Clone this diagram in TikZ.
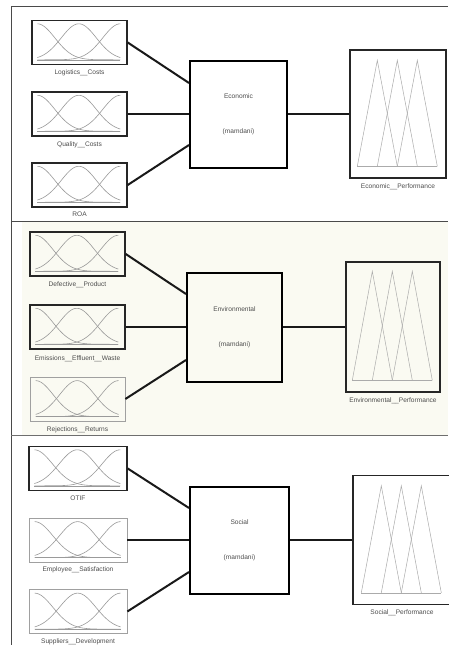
\documentclass[tikz,border=0pt]{standalone}
\usepackage{fontspec}
\setmainfont{Liberation Sans}
\definecolor{frameline}{HTML}{4A4A4A}
\definecolor{paneltint}{HTML}{FAFAF2}
\definecolor{txt}{HTML}{4D4D4D}
\definecolor{curve}{HTML}{9A9A9A}
\definecolor{tri}{HTML}{ABABAB}
\definecolor{lightbox}{HTML}{A0A0A0}
\tikzset{
  frame/.style={draw=frameline, line width=1pt},
  inbox/.style={draw=black!85, line width=1.4pt, minimum width=95pt, minimum height=44pt, inner sep=0pt},
  inboxlight/.style={inbox, draw=lightbox, line width=0.7pt},
  fisbox/.style={draw=black, line width=2pt, inner sep=0pt, align=center, text=txt,
                 font=\fontsize{6.6}{8}\selectfont},
  outbox/.style={draw=black!85, line width=1.4pt, inner sep=0pt},
  lbl/.style={text=txt, font=\fontsize{6.6}{8}\selectfont, inner sep=0pt,
              text height=5pt, text depth=1.5pt},
  wire/.style={draw=black!90, line width=2pt},
  mfcurve/.style={draw=curve, line width=0.6pt},
  mftri/.style={draw=tri, line width=0.5pt},
}
% three Gaussian membership functions inside an input box
\newcommand\gaussmf[3]{% node, width, height
  \begin{scope}[shift={(#1.north west)}]
    \pgfmathsetmacro\ga{6}
    \pgfmathsetmacro\gb{#2-6}
    \pgfmathsetmacro\gm{(\ga+\gb)/2}
    \pgfmathsetmacro\gs{(\gb-\ga)/4/1.1774}
    \pgfmathsetmacro\gt{4}
    \pgfmathsetmacro\gbot{#3-4}
    \foreach \c in {\ga,\gm,\gb}
      \draw[mfcurve] plot[domain=\ga:\gb, samples=70, smooth]
        (\x, {\gbot-(\gbot-\gt)*exp(-((\x-\c)^2)/(2*\gs*\gs))});
    \draw[mfcurve] (\ga,\gbot) -- (\gb,\gbot);
  \end{scope}}
% three triangular membership functions inside an output box
\newcommand\trimf[4]{% node, left x, peak y, base y (from north west corner)
  \begin{scope}[shift={(#1.north west)}]
    \foreach \k in {0,1,2}
      \draw[mftri] ({#2+20*\k},#4) -- ({#2+20*\k+20},#3) -- ({#2+20*\k+40},#4);
    \draw[mftri] (#2,#4) -- ({#2+80},#4);
  \end{scope}}
\begin{document}
\begin{tikzpicture}[x=1pt, y=-1pt]
  \useasboundingbox[fill=white] (0,0) rectangle (448,645);
  % tinted middle panel and panel frame
  \fill[paneltint] (22,221) rectangle (448,435);
  \draw[frame] (11,645) -- (11,6) -- (448,6);
  \draw[frame] (11,221) -- (448,221);
  \draw[frame, draw=frameline!80] (11,435.5) -- (448,435.5);

  % ---------- Economic ----------
  \node[inbox] (lc) at (79.5,42.5) {};
  \node[inbox] (qc) at (79.5,114) {};
  \node[inbox] (roa) at (79.5,185) {};
  \gaussmf{lc}{95}{44}\gaussmf{qc}{95}{44}\gaussmf{roa}{95}{44}
  \node[lbl] (lcl) at ([yshift=-8pt]lc.south) {Logistics\_\_Costs};
  \node[lbl] (qcl) at ([yshift=-8pt]qc.south) {Quality\_\_Costs};
  \node[lbl] (roal) at ([yshift=-7pt]roa.south) {ROA};
  \node[fisbox, minimum width=97pt, minimum height=107pt] (eco) at (238.5,114)
    {Economic\\[27pt](mamdani)};
  \node[outbox, minimum width=96pt, minimum height=128pt] (ecop) at (398,114) {};
  \trimf{ecop}{8}{11}{117}
  \node[lbl] (ecopl) at ([yshift=-8pt]ecop.south) {Economic\_\_Performance};
  \draw[wire] (lc.east) -- ([yshift=31pt]eco.west);
  \draw[wire] (qc.east) -- (eco.west);
  \draw[wire] (roa.east) -- ([yshift=-31pt]eco.west);
  \draw[wire] (eco.east) -- (ecop.west);

  % ---------- Environmental ----------
  \node[inbox] (dp) at (77.5,254) {};
  \node[inbox] (eew) at (77.5,327) {};
  \node[inboxlight] (rr) at (77.5,399) {};
  \gaussmf{dp}{95}{44}\gaussmf{eew}{95}{44}\gaussmf{rr}{95}{44}
  \node[lbl] (dpl) at ([yshift=-8pt]dp.south) {Defective\_\_Product};
  \node[lbl] (eewl) at ([yshift=-9pt]eew.south) {Emissions\_\_Effluent\_\_Waste};
  \node[lbl] (rrl) at ([yshift=-8.5pt]rr.south) {Rejections\_\_Returns};
  \node[fisbox, minimum width=95pt, minimum height=109pt] (env) at (234.5,327)
    {Environmental\\[27pt](mamdani)};
  \node[outbox, minimum width=94pt, minimum height=130pt] (envp) at (393,327) {};
  \trimf{envp}{7}{10}{119}
  \node[lbl] (envpl) at ([yshift=-8pt]envp.south) {Environmental\_\_Performance};
  \draw[wire] (dp.east) -- ([yshift=33pt]env.west);
  \draw[wire] (eew.east) -- (env.west);
  \draw[wire] (rr.east) -- ([yshift=-33pt]env.west);
  \draw[wire] (env.east) -- (envp.west);

  % ---------- Social ----------
  \node[inbox, minimum width=98pt] (otif) at (78,468.5) {};
  \node[inboxlight, minimum width=98pt] (es) at (78,540) {};
  \node[inboxlight, minimum width=98pt] (sd) at (78,611.5) {};
  \gaussmf{otif}{98}{44}\gaussmf{es}{98}{44}\gaussmf{sd}{98}{44}
  \node[lbl] (otifl) at ([yshift=-8pt]otif.south) {OTIF};
  \node[lbl] (esl) at ([yshift=-7.5pt]es.south) {Employee\_\_Satisfaction};
  \node[lbl] (sdl) at ([yshift=-8pt]sd.south) {Suppliers\_\_Development};
  \node[fisbox, minimum width=99pt, minimum height=107pt] (soc) at (239.5,540)
    {Social\\[27pt](mamdani)};
  \node[outbox, minimum width=98pt, minimum height=129pt] (socp) at (402,540) {};
  \trimf{socp}{9}{11}{118}
  \node[lbl] (socpl) at ([yshift=-8pt]socp.south) {Social\_\_Performance};
  \draw[wire] (otif.east) -- ([yshift=32pt]soc.west);
  \draw[wire] (es.east) -- (soc.west);
  \draw[wire] (sd.east) -- ([yshift=-32pt]soc.west);
  \draw[wire] (soc.east) -- (socp.west);
\end{tikzpicture}
\end{document}
